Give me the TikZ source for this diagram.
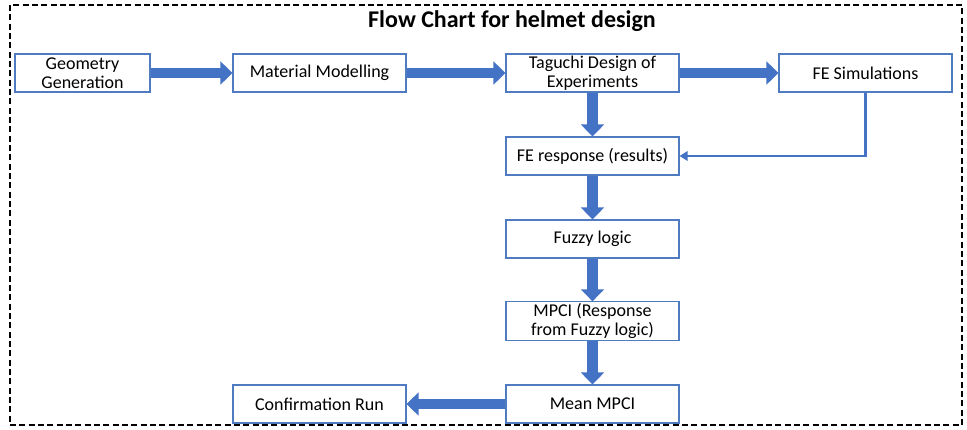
\documentclass[tikz,border=0pt]{standalone}
\usepackage{fontspec}
\setmainfont{Carlito}
\usetikzlibrary{arrows.meta, positioning, calc}
\definecolor{cArrow}{HTML}{4472C4}
\definecolor{cEdge}{HTML}{4F7BC0}
\tikzset{
  font=\fontsize{13.5pt}{14.5pt}\selectfont,
  stage/.style={draw=cEdge, line width=0.8pt, fill=white, align=center,
    minimum width=129.75pt, minimum height=28.5pt, inner sep=1pt},
  fatflow/.style={-{Triangle[length=9pt, width=17pt]}, line width=8pt, draw=cArrow},
  thinflow/.style={-{Triangle[length=6pt, width=7pt]}, line width=1.6pt, draw=cArrow},
  framebox/.style={draw=black, line width=1.1pt, dash pattern=on 4.5pt off 2.5pt},
  titletext/.style={font=\fontsize{18pt}{20pt}\selectfont\bfseries},
}

\begin{document}
\begin{tikzpicture}[x=0.75pt, y=-0.75pt]
  \useasboundingbox (0,0) rectangle (967,429);

  % ------------------------------------------------------------
  % Frame and title
  % ------------------------------------------------------------
  \draw[framebox] (10,5) rectangle (962,425);
  \node[titletext] (title) at (512,21) {Flow Chart for helmet design};

  % ------------------------------------------------------------
  % Top row
  % ------------------------------------------------------------
  \node[stage, minimum width=101.25pt] (geom) at (82.5,73) {Geometry\\ Generation};
  \node[stage] (matmod) at (319.5,73) {Material Modelling};
  \node[stage] (taguchi) at (592.5,73) {Taguchi Design of\\ Experiments};
  \node[stage] (fesim) at (865.5,73) {FE Simulations};

  % ------------------------------------------------------------
  % Middle column
  % ------------------------------------------------------------
  \node[stage] (feresp) at (592.5,156) {FE response (results)};
  \node[stage] (fuzzy) at (592.5,239) {Fuzzy logic};
  \node[stage] (mpci) at (592.5,321) {MPCI (Response\\ from Fuzzy logic)};
  \node[stage] (meanmpci) at (592.5,404) {Mean MPCI};

  % ------------------------------------------------------------
  % Bottom row
  % ------------------------------------------------------------
  \node[stage] (confirm) at (319.5,404) {Confirmation Run};

  % ------------------------------------------------------------
  % Arrows
  % ------------------------------------------------------------
  \draw[fatflow] (geom) -- (matmod);
  \draw[fatflow] (matmod) -- (taguchi);
  \draw[fatflow] (taguchi) -- (fesim);
  \draw[fatflow] (taguchi) -- (feresp);
  \draw[fatflow] (feresp) -- (fuzzy);
  \draw[fatflow] (fuzzy) -- (mpci);
  \draw[fatflow] (mpci) -- (meanmpci);
  \draw[fatflow] (meanmpci) -- (confirm);
  \draw[thinflow] (fesim.south) |- (feresp.east);

\end{tikzpicture}
\end{document}
